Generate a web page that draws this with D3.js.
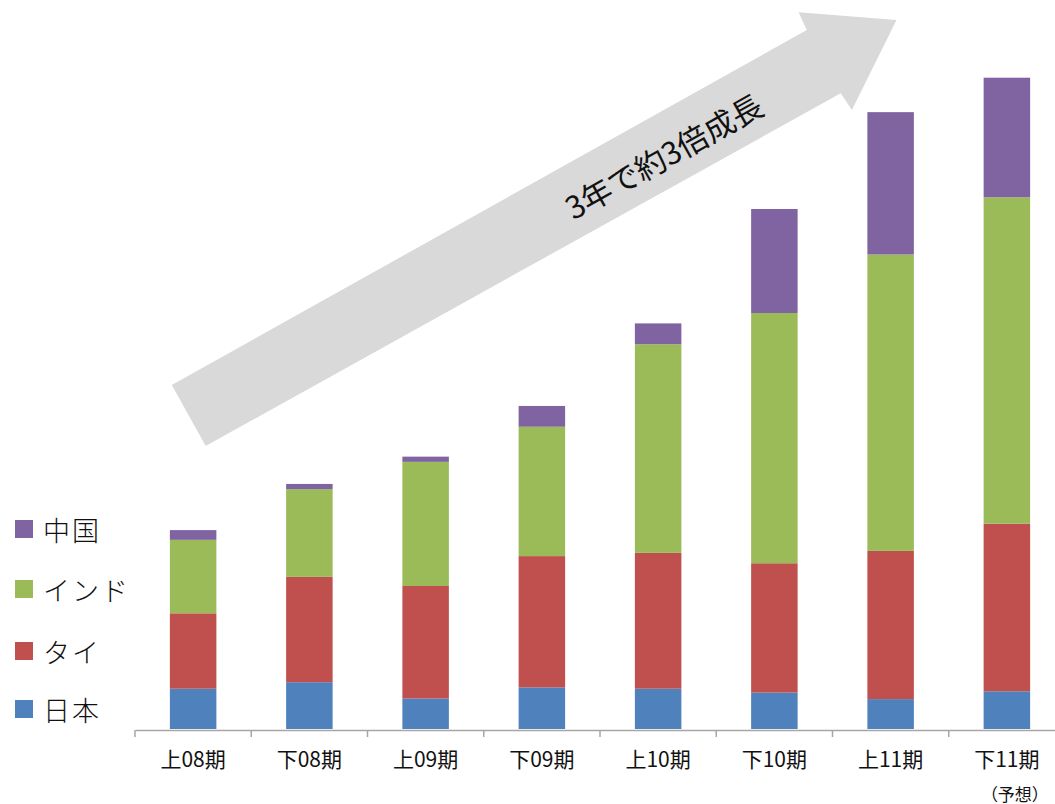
<!DOCTYPE html>
<html>
<head>
<meta charset="utf-8">
<script src="https://cdn.jsdelivr.net/npm/d3@7"></script>
<style>
  html, body { margin: 0; padding: 0; background: #fff; }
  svg { display: block; font-family: "Noto Sans CJK JP", "Noto Sans", sans-serif; }
</style>
</head>
<body>
<svg id="chart" width="1055" height="804"></svg>
<script>
// ---- data ----
const categories = ["上08期", "下08期", "上09期", "下09期", "上10期", "下10期", "上11期", "下11期"];
const seriesNames = ["日本", "タイ", "インド", "中国"];
const japan = [6.2, 7.2, 4.7, 6.4, 6.2, 5.6, 4.6, 5.8];
const thailand = [11.6, 16.2, 17.3, 20.2, 20.9, 19.9, 22.8, 25.8];
const india = [11.3, 13.5, 19.1, 19.9, 32.1, 38.5, 45.6, 50.2];
const china = [1.5, 0.8, 0.8, 3.2, 3.2, 16.0, 21.9, 18.4];
const colors = ["#4f81bd", "#c0504d", "#9bbb59", "#8064a2"];
const arrowLabel = "3年で約3倍成長";
const forecastNote = "（予想）";

const seriesValues = [japan, thailand, india, china];
const table = categories.map((c, i) => {
  const row = { cat: c };
  seriesNames.forEach((s, k) => row[s] = seriesValues[k][i]);
  return row;
});

const svg = d3.select("#chart");
const baseY = 729;

const x = d3.scaleBand().domain(categories).range([135, 1065]).paddingInner(0.6).paddingOuter(0.3);
const y = d3.scaleLinear().domain([0, 112]).range([baseY, baseY - 112 * 6.5]);

// ---- arrow (background) ----
const arrowPts = [[171.8, 385], [205.7, 446], [840.7, 93.3], [851.9, 110], [896.5, 20], [798.6, 12.3], [806.8, 30]];
svg.append("polygon")
  .attr("points", arrowPts.map(p => p.join(",")).join(" "))
  .attr("fill", "#d9d9d9");
const ang = Math.atan2(30 - 385, 806.8 - 171.8) * 180 / Math.PI;
svg.append("text")
  .attr("transform", `translate(663,155) rotate(${ang})`)
  .attr("text-anchor", "middle")
  .attr("dominant-baseline", "central")
  .attr("font-size", 31)
  .attr("fill", "#111")
  .text(arrowLabel);

// ---- stacked bars ----
const stack = d3.stack().keys(seriesNames);
const layers = stack(table);
svg.append("g").selectAll("g")
  .data(layers)
  .join("g")
  .attr("fill", (d, i) => colors[i])
  .selectAll("rect")
  .data(d => d)
  .join("rect")
  .attr("x", d => x(d.data.cat))
  .attr("width", x.bandwidth())
  .attr("y", d => y(d[1]))
  .attr("height", d => y(d[0]) - y(d[1]));

// ---- axis ----
const axisG = svg.append("g").attr("transform", `translate(0,${baseY + 1})`);
axisG.call(d3.axisBottom(x).tickSize(0).tickPadding(22))
  .call(g => g.select(".domain").attr("stroke", "#a6a6a6").attr("stroke-width", 1.5))
  .call(g => g.selectAll(".tick text")
    .attr("font-size", 21)
    .attr("fill", "#111")
    .attr("font-family", "'Noto Sans CJK JP', sans-serif"));
// tick marks at category boundaries
const boundaries = categories.map(c => x(c) - (x.step() - x.bandwidth()) / 2);
boundaries.push(boundaries[boundaries.length - 1] + x.step());
axisG.selectAll("line.bt")
  .data(boundaries)
  .join("line")
  .attr("class", "bt")
  .attr("x1", d => d).attr("x2", d => d)
  .attr("y1", 0).attr("y2", 7)
  .attr("stroke", "#a6a6a6").attr("stroke-width", 1.5);

// forecast note under the last label
svg.append("text")
  .attr("x", x(categories[categories.length - 1]) + x.bandwidth() / 2 + 8)
  .attr("y", 793)
  .attr("text-anchor", "middle")
  .attr("dominant-baseline", "central")
  .attr("font-size", 17)
  .attr("fill", "#111")
  .text(forecastNote);

// ---- legend ----
const legendRows = [3, 2, 1, 0];
const legendY = [529, 589, 651, 709];
const lg = svg.append("g");
legendRows.forEach((k, i) => {
  lg.append("rect")
    .attr("x", 15).attr("y", legendY[i] - 9)
    .attr("width", 18).attr("height", 18)
    .attr("fill", colors[k]);
  lg.append("text")
    .attr("x", 43).attr("y", legendY[i])
    .attr("dominant-baseline", "central")
    .attr("font-size", 27)
    .attr("font-weight", 300)
    .attr("letter-spacing", 2)
    .attr("fill", "#111")
    .text(seriesNames[k]);
});
</script>
</body>
</html>
